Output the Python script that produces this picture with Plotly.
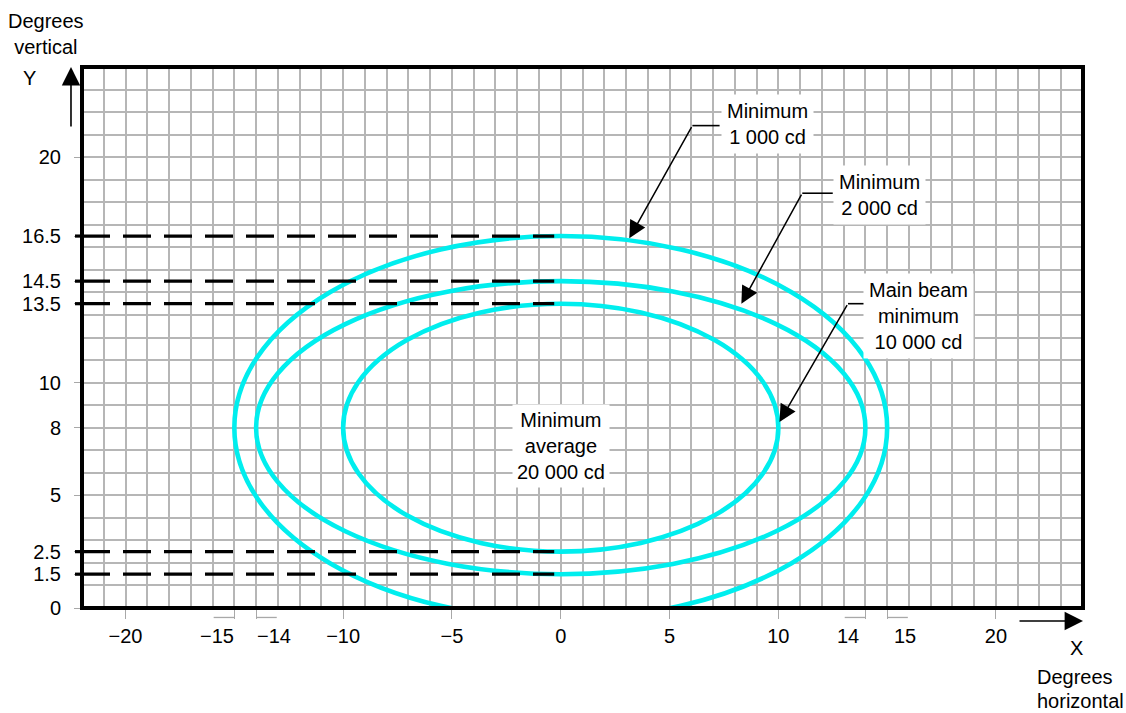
import plotly.graph_objects as go

# ---------------- data ----------------
x_range = [-22, 24]
y_range = [0, 24]
grid_step = 1

x_tick_vals = [-20, -15, -14, -10, -5, 0, 5, 10, 14, 15, 20]
x_tick_text = ["\u221220", "\u221215", "\u221214", "\u221210", "\u22125", "0", "5", "10", "14", "15", "20"]
x_offset_ticks = [-15, -14, 14, 15]          # labels pushed outward with a bracket
x_offset_dir = [-1, 1, -1, 1]

y_tick_vals = [0, 1.5, 2.5, 5, 8, 10, 13.5, 14.5, 16.5, 20]
y_tick_text = ["0", "1.5", "2.5", "5", "8", "10", "13.5", "14.5", "16.5", "20"]

# isocandela contours (ellipses centred on the beam axis)
contour_names = ["Minimum 1 000 cd", "Minimum 2 000 cd", "Main beam minimum 10 000 cd"]
contour_half_width = [15, 14, 10]
contour_top = [16.5, 14.5, 13.5]
contour_bottom = [-0.5, 1.5, 2.5]

# dashed reference levels
dash_levels = [16.5, 14.5, 13.5, 2.5, 1.5]
dash_end_x = -0.3

# callouts
callout_text = ["Minimum<br>1 000 cd", "Minimum<br>2 000 cd", "Main beam<br>minimum<br>10 000 cd"]
callout_pos_x = [9.5, 14.65, 16.45]
callout_pos_y = [21.45, 18.3, 12.95]
leader_tail_x = [6.05, 11.1, 13.2]
leader_box_x = [7.3, 12.5, 14.3]
leader_y = [21.4, 18.4, 13.5]
arrow_tip_x = [3.15, 8.3, 10.05]
arrow_tip_y = [16.4, 13.5, 8.25]

centre_text = "Minimum<br>average<br>20 000 cd"
centre_x = 0
centre_y = 7.2

# ---------------- style ----------------
FONT = "Liberation Sans, Arial, Helvetica, sans-serif"
CYAN = "#00EEEE"
GRID = "#b6b6b6"
TICKC = "#a8a8a8"
FS = 20

fig = go.Figure()
fig.add_trace(go.Scatter(x=[centre_x], y=[centre_y], mode="markers",
                         marker=dict(opacity=0), hoverinfo="skip", showlegend=False))
fig.add_trace(go.Scatter(x=[centre_x], y=[centre_y], mode="markers", xaxis="x2", yaxis="y2",
                         marker=dict(opacity=0), hoverinfo="skip", showlegend=False))

shapes = []
for hw, top, bot in zip(contour_half_width, contour_top, contour_bottom):
    shapes.append(dict(type="circle", xref="x", yref="y", x0=-hw, x1=hw, y0=bot, y1=top,
                       line=dict(color=CYAN, width=4.6), layer="above"))

for lv in dash_levels:
    shapes.append(dict(type="line", xref="x", yref="y", x0=x_range[0], x1=dash_end_x,
                       y0=lv, y1=lv, line=dict(color="black", width=3.2, dash="28px,13px"),
                       layer="above"))
    shapes.append(dict(type="line", xref="paper", yref="y", x0=-0.007, x1=0,
                       y0=lv, y1=lv, line=dict(color="black", width=3.2), layer="above"))

for v, d in zip(x_offset_ticks, x_offset_dir):
    shapes.append(dict(type="line", xref="x", yref="paper", x0=v, x1=v + d * 0.95,
                       y0=-0.0175, y1=-0.0175, line=dict(color=TICKC, width=1.3)))

for tx, bx, ly in zip(leader_tail_x, leader_box_x, leader_y):
    shapes.append(dict(type="line", xref="x", yref="y", x0=tx, x1=bx, y0=ly, y1=ly,
                       line=dict(color="black", width=1.6), layer="above"))

shapes.append(dict(type="rect", xref="paper", yref="paper", x0=0, x1=1, y0=0, y1=1,
                   line=dict(color="black", width=4), layer="above"))

annotations = []
for t, px, py in zip(callout_text, callout_pos_x, callout_pos_y):
    annotations.append(dict(x=px, y=py, xref="x", yref="y", text=t, showarrow=False,
                            font=dict(family=FONT, size=FS, color="black"),
                            bgcolor="white", borderpad=5, align="center",
                            xanchor="center", yanchor="middle"))
for tx, ly, ax_, ay_ in zip(leader_tail_x, leader_y, arrow_tip_x, arrow_tip_y):
    annotations.append(dict(x=ax_, y=ay_, xref="x", yref="y", ax=tx, ay=ly,
                            axref="x", ayref="y", text="", showarrow=True,
                            arrowhead=2, arrowsize=2.3, arrowwidth=1.5, arrowcolor="black"))
annotations.append(dict(x=centre_x, y=centre_y, xref="x", yref="y", text=centre_text,
                        showarrow=False, font=dict(family=FONT, size=FS, color="black"),
                        bgcolor="white", borderpad=4, align="center",
                        xanchor="center", yanchor="middle"))

for v, d in zip(x_offset_ticks, x_offset_dir):
    annotations.append(dict(x=v + d * 0.8, y=-0.052, xref="x", yref="paper",
                            text=x_tick_text[x_tick_vals.index(v)], showarrow=False,
                            font=dict(family=FONT, size=FS, color="black"),
                            xanchor="center", yanchor="middle"))

# axis arrows
annotations.append(dict(x=-0.011, y=1.0, xref="paper", yref="paper", ax=0, ay=61,
                        text="", showarrow=True, arrowhead=2, arrowsize=2.3,
                        arrowwidth=1.6, arrowcolor="black"))
annotations.append(dict(x=1.0, y=-0.024, xref="paper", yref="paper", ax=-65, ay=0,
                        text="", showarrow=True, arrowhead=2, arrowsize=2.3,
                        arrowwidth=1.6, arrowcolor="black"))
# axis titles
annotations.append(dict(x=-0.036, y=1.061, xref="paper", yref="paper",
                        text="Degrees<br>vertical", showarrow=False, xanchor="center",
                        yanchor="middle", font=dict(family=FONT, size=FS), align="center"))
annotations.append(dict(x=-0.052, y=0.98, xref="paper", yref="paper", text="Y",
                        showarrow=False, xanchor="center", yanchor="middle",
                        font=dict(family=FONT, size=FS)))
annotations.append(dict(x=0.994, y=-0.074, xref="paper", yref="paper", text="X",
                        showarrow=False, xanchor="center", yanchor="middle",
                        font=dict(family=FONT, size=FS)))
annotations.append(dict(x=1.032, y=-0.1275, xref="paper", yref="paper", text="Degrees",
                        showarrow=False, xanchor="right", yanchor="middle",
                        font=dict(family=FONT, size=FS)))
annotations.append(dict(x=0.952, y=-0.172, xref="paper", yref="paper", text="horizontal",
                        showarrow=False, xanchor="left", yanchor="middle",
                        font=dict(family=FONT, size=FS)))

x_labels_main = ["" if v in x_offset_ticks else t for v, t in zip(x_tick_vals, x_tick_text)]

fig.update_layout(
    width=1126, height=713,
    margin=dict(l=82, r=43, t=67, b=105),
    paper_bgcolor="white", plot_bgcolor="white",
    showlegend=False,
    font=dict(family=FONT, size=FS, color="black"),
    xaxis=dict(range=x_range, tickmode="linear", tick0=0, dtick=grid_step,
               showgrid=True, gridcolor=GRID, gridwidth=1.6, showticklabels=False,
               ticks="", zeroline=False, showline=False, fixedrange=True),
    yaxis=dict(range=y_range, tickmode="linear", tick0=0, dtick=grid_step,
               showgrid=True, gridcolor=GRID, gridwidth=1.6, showticklabels=False,
               ticks="", zeroline=False, showline=False, fixedrange=True),
    xaxis2=dict(range=x_range, overlaying="x", side="bottom", tickmode="array",
                tickvals=x_tick_vals, ticktext=x_labels_main, ticks="outside",
                ticklen=10, tickwidth=1.3, tickcolor=TICKC, showgrid=False,
                zeroline=False, showline=False, ticklabelstandoff=0,
                tickfont=dict(family=FONT, size=FS), fixedrange=True),
    yaxis2=dict(range=y_range, overlaying="y", side="left", tickmode="array",
                tickvals=y_tick_vals, ticktext=y_tick_text, ticks="outside",
                ticklen=7, tickwidth=1.3, tickcolor=TICKC, showgrid=False,
                zeroline=False, showline=False, ticklabelstandoff=9,
                tickfont=dict(family=FONT, size=FS), fixedrange=True),
    shapes=shapes,
    annotations=annotations,
)

# remove the browser's default 8px page margin so the figure fills the window exactly
fig.write_html("out.html",
               config={"displayModeBar": False},
               post_script="document.body.style.margin='0';document.body.style.overflow='hidden';")
